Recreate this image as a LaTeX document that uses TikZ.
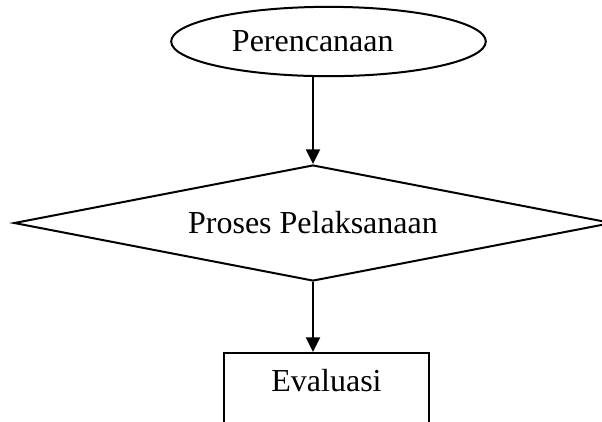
\documentclass[tikz,border=0pt,12pt]{standalone}
\usepackage{fontspec}
\setmainfont{Liberation Serif}
\usepackage{xcolor}
\usepackage{tikz}
\usetikzlibrary{positioning,arrows.meta,shapes.geometric}

\begin{document}
\begin{tikzpicture}[
  x=0.375pt, y=-0.375pt,
  startbox/.style={draw, ellipse, line width=0.75pt, inner sep=0pt, minimum width=118pt, minimum height=26pt, text width=72.4pt, align=left},
  decision/.style={draw, diamond, aspect=5.16, line width=0.75pt, inner sep=0pt, minimum width=224.25pt, minimum height=43.5pt},
  box/.style={draw, rectangle, line width=0.75pt, anchor=north, minimum width=77pt, inner xsep=0pt, inner ysep=6.25pt, text height=8pt, text depth=20pt},
  flow/.style={-{Triangle[length=5.5pt,width=5.2pt]}, line width=0.9pt}
]
\path[use as bounding box, clip] (0,0) rectangle (602,421);
\node[startbox] (plan) at (328.5,41.5) {Perencanaan};
\node[decision] (proses) at (313,223) {Proses Pelaksanaan};
\node[box] (eval) at (326.5,352) {Evaluasi};

\draw[flow] (plan.south -| proses.north) -- (proses.north);
\draw[flow] (proses.south) -- (proses.south |- eval.north);
\end{tikzpicture}
\end{document}
